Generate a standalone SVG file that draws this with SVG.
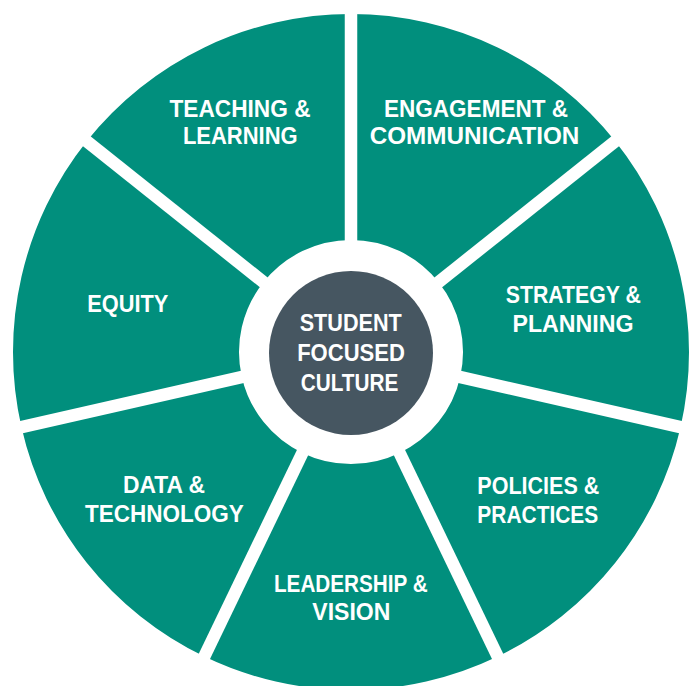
<svg xmlns="http://www.w3.org/2000/svg" width="694" height="686" viewBox="0 0 694 686">
<style>
.seg{fill:#018F7D}
.div{stroke:#FFFFFF;stroke-width:12.5;stroke-linecap:butt}
.lbl{font-family:"Liberation Sans",Arial,sans-serif;font-weight:bold;font-size:24px;fill:#FFFFFF;text-anchor:middle}
</style>
<rect x="0" y="0" width="694" height="686" fill="#FFFFFF"/>
<g id="engagement">
<path class="seg" d="M351,240 L351,14 A338,338 0 0 1 615.26,141.26 L438.56,282.17 A112,112 0 0 0 351,240 Z"/>
<text class="lbl" x="476" y="116.7" textLength="184" lengthAdjust="spacingAndGlyphs">ENGAGEMENT &amp;</text>
<text class="lbl" x="474.5" y="144" textLength="209.7" lengthAdjust="spacingAndGlyphs">COMMUNICATION</text>
</g>
<g id="strategy">
<path class="seg" d="M438.56,282.17 L615.26,141.26 A338,338 0 0 1 680.53,427.21 L460.19,376.92 A112,112 0 0 0 438.56,282.17 Z"/>
<text class="lbl" x="573.3" y="303.3" textLength="135" lengthAdjust="spacingAndGlyphs">STRATEGY &amp;</text>
<text class="lbl" x="573" y="331.7" textLength="121" lengthAdjust="spacingAndGlyphs">PLANNING</text>
</g>
<g id="policies">
<path class="seg" d="M460.19,376.92 L680.53,427.21 A338,338 0 0 1 497.65,656.53 L399.59,452.91 A112,112 0 0 0 460.19,376.92 Z"/>
<text class="lbl" x="538.3" y="494" textLength="122" lengthAdjust="spacingAndGlyphs">POLICIES &amp;</text>
<text class="lbl" x="537.8" y="522.7" textLength="121" lengthAdjust="spacingAndGlyphs">PRACTICES</text>
</g>
<g id="leadership">
<path class="seg" d="M399.59,452.91 L497.65,656.53 A338,338 0 0 1 204.35,656.53 L302.41,452.91 A112,112 0 0 0 399.59,452.91 Z"/>
<text class="lbl" x="350.8" y="591.7" textLength="153.7" lengthAdjust="spacingAndGlyphs">LEADERSHIP &amp;</text>
<text class="lbl" x="351.3" y="620" textLength="78" lengthAdjust="spacingAndGlyphs">VISION</text>
</g>
<g id="data">
<path class="seg" d="M302.41,452.91 L204.35,656.53 A338,338 0 0 1 21.47,427.21 L241.81,376.92 A112,112 0 0 0 302.41,452.91 Z"/>
<text class="lbl" x="164" y="493.3" textLength="82" lengthAdjust="spacingAndGlyphs">DATA &amp;</text>
<text class="lbl" x="164.3" y="521.7" textLength="158.7" lengthAdjust="spacingAndGlyphs">TECHNOLOGY</text>
</g>
<g id="equity">
<path class="seg" d="M241.81,376.92 L21.47,427.21 A338,338 0 0 1 86.74,141.26 L263.44,282.17 A112,112 0 0 0 241.81,376.92 Z"/>
<text class="lbl" x="127.8" y="312.3" textLength="81" lengthAdjust="spacingAndGlyphs">EQUITY</text>
</g>
<g id="teaching">
<path class="seg" d="M263.44,282.17 L86.74,141.26 A338,338 0 0 1 351,14 L351,240 A112,112 0 0 0 263.44,282.17 Z"/>
<text class="lbl" x="240" y="116.7" textLength="141" lengthAdjust="spacingAndGlyphs">TEACHING &amp;</text>
<text class="lbl" x="240.3" y="144" textLength="114.7" lengthAdjust="spacingAndGlyphs">LEARNING</text>
</g>
<g id="dividers">
<line class="div" x1="351" y1="250" x2="351" y2="5"/>
<line class="div" x1="429.2" y1="289.6" x2="622.3" y2="135.6"/>
<line class="div" x1="448.5" y1="374.3" x2="689.3" y2="429.2"/>
<line class="div" x1="394.4" y1="442.1" x2="501.6" y2="664.6"/>
<line class="div" x1="307.6" y1="442.1" x2="200.4" y2="664.6"/>
<line class="div" x1="253.5" y1="374.3" x2="12.7" y2="429.2"/>
<line class="div" x1="272.8" y1="289.6" x2="79.7" y2="135.6"/>
</g>
<g id="center">
<circle cx="351" cy="353" r="82" fill="#465661"/>
<text class="lbl" x="350.7" y="330.5" textLength="102" lengthAdjust="spacingAndGlyphs">STUDENT</text>
<text class="lbl" x="351" y="360.8" textLength="107.7" lengthAdjust="spacingAndGlyphs">FOCUSED</text>
<text class="lbl" x="349.5" y="391" textLength="97.7" lengthAdjust="spacingAndGlyphs">CULTURE</text>
</g>
</svg>
